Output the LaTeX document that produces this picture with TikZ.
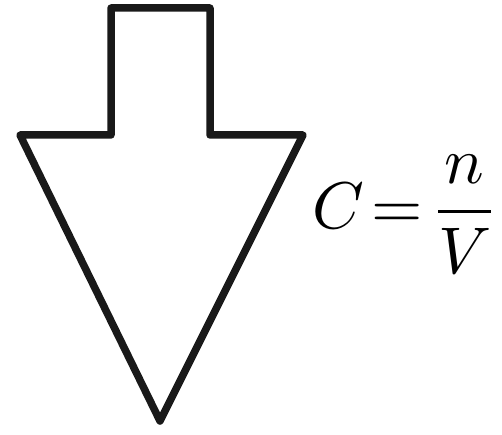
\documentclass[tikz,border=0pt]{standalone}
\usepackage{tikz}
\tikzset{
  outline/.style={
    draw=black!90,
    line width=7.5pt,
    line join=round
  },
  formula/.style={
    inner sep=0pt,
    anchor=base west,
    scale=6.6
  }
}

\begin{document}
\begin{tikzpicture}[x=1pt,y=1pt]
  \useasboundingbox (0,0) rectangle (502,434);
  % block arrow pointing down
  \coordinate (tl) at (111,426);
  \coordinate (tr) at (210,426);
  \coordinate (sl) at (111,299);
  \coordinate (sr) at (210,299);
  \coordinate (hl) at (20,299);
  \coordinate (hr) at (303,299);
  \coordinate (tip) at (160,13);
  \draw[outline] (tl) -- (tr) -- (sr) -- (hr) -- (tip) -- (hl) -- (sl) -- cycle;

  \node[formula] (conc) at (311,206) {$\displaystyle C\mskip-3mu=\mskip-3mu\frac{n}{V}$};
\end{tikzpicture}
\end{document}
